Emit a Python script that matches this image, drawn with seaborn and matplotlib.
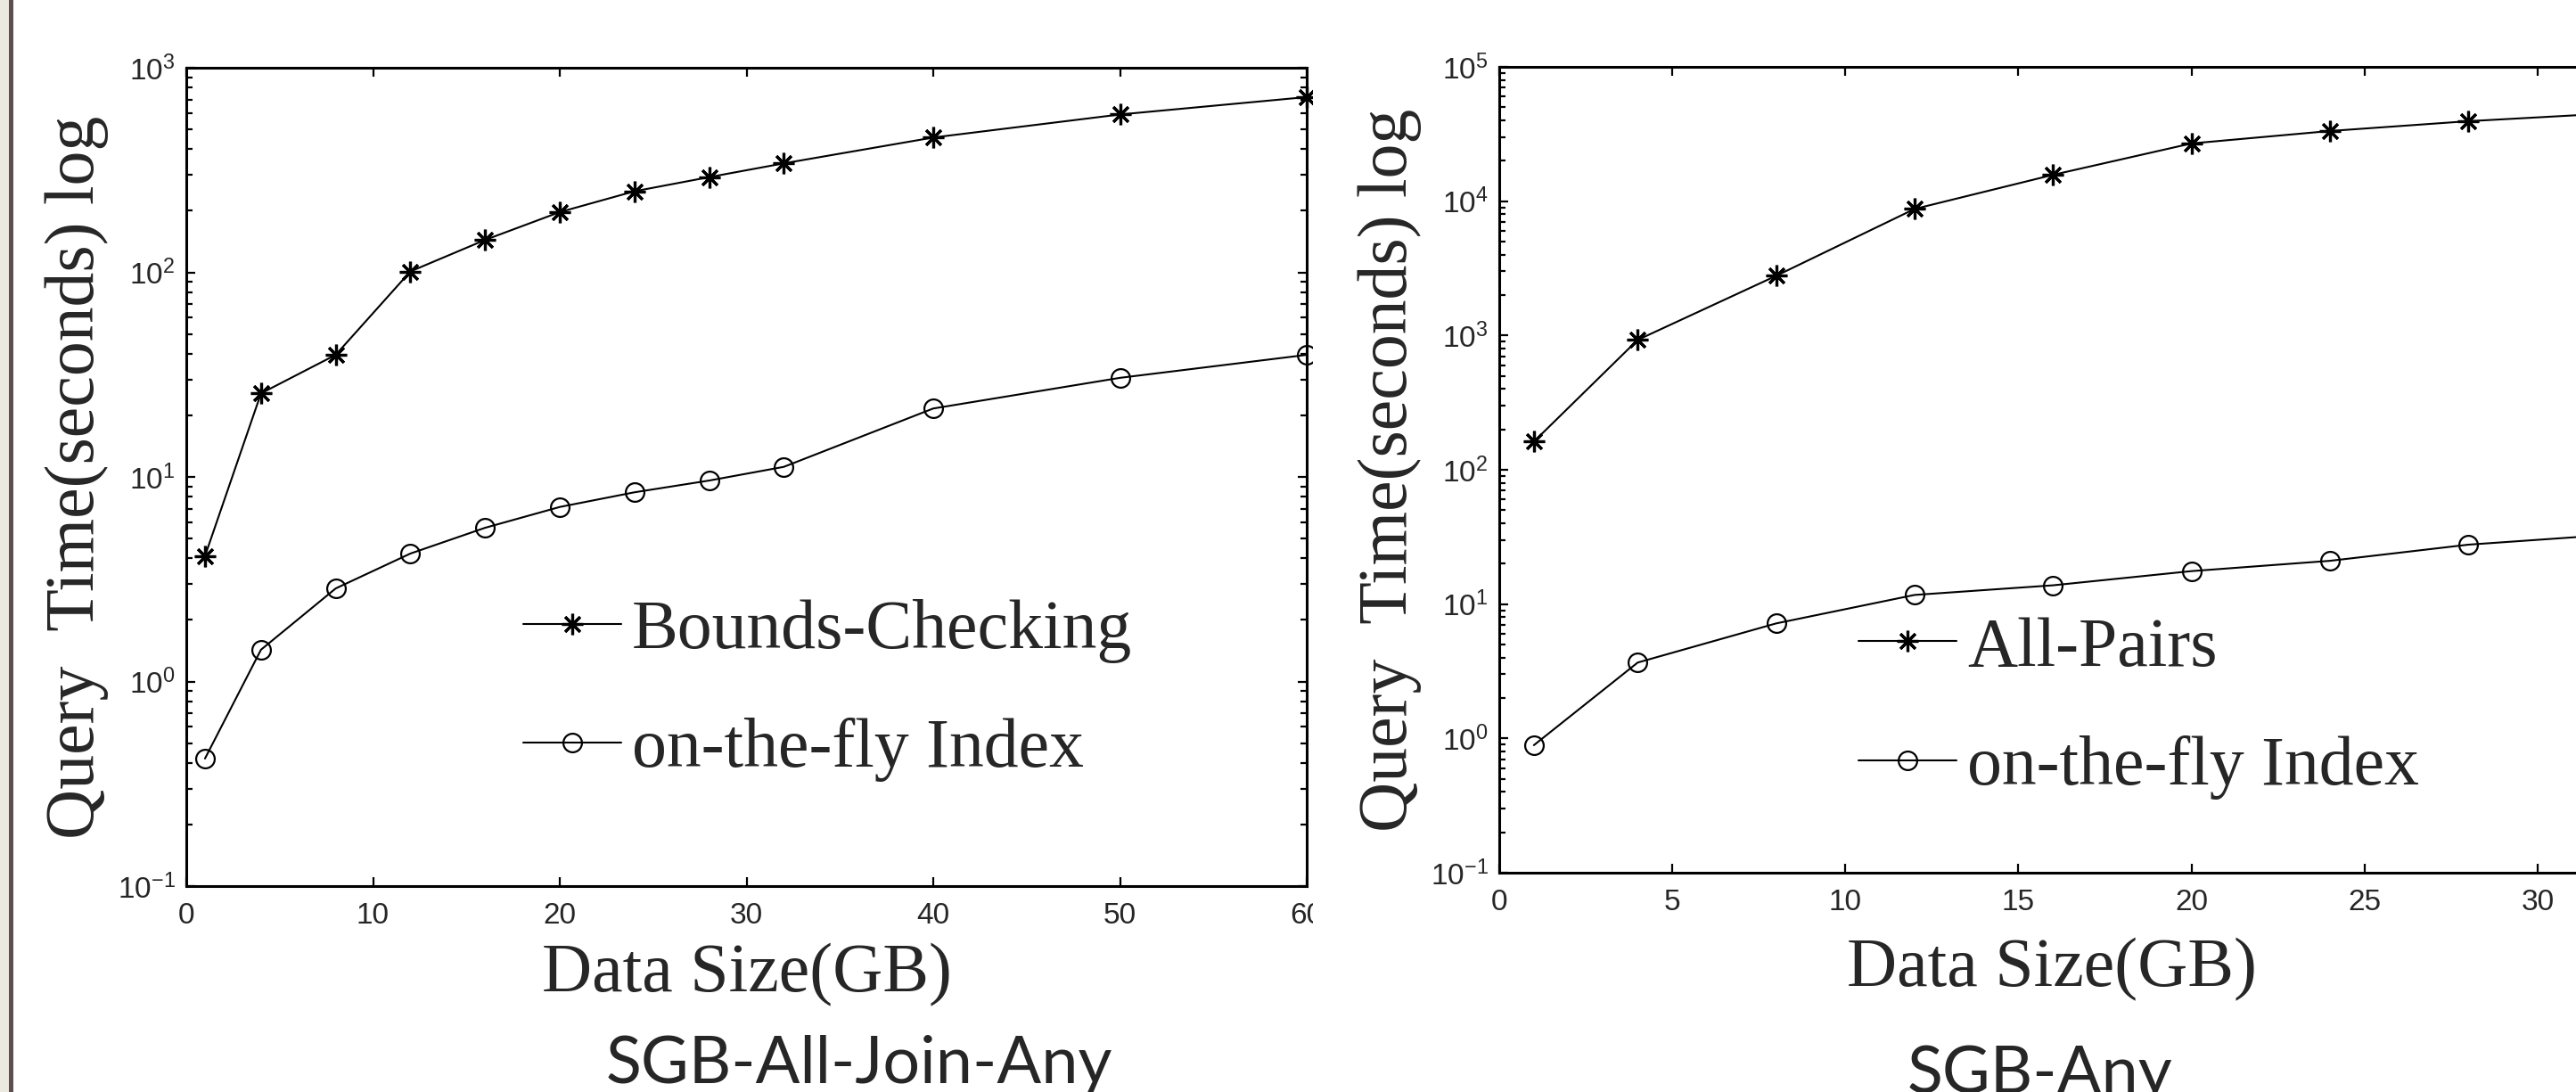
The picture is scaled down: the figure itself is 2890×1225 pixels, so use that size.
import math
import matplotlib
matplotlib.use('Agg')
import pandas as pd
import matplotlib.pyplot as plt
import seaborn as sns
from matplotlib.markers import MarkerStyle
from matplotlib.patches import Rectangle
from matplotlib.ticker import FixedLocator, FuncFormatter, LogLocator, NullFormatter

# SGB-All-Join-Any (left panel)
left_sizes = [1, 4, 8, 12, 16, 20, 24, 28, 32, 40, 50, 60]
bounds_checking = [4.1, 25.6, 39.5, 101, 144, 197, 249, 292, 341, 456, 591, 719]
left_index = [0.42, 1.43, 2.85, 4.22, 5.64, 7.13, 8.41, 9.6, 11.2, 21.6, 30.5, 39.5]

# SGB-Any (right panel, cropped on the right)
right_sizes = [1, 4, 8, 12, 16, 20, 24, 28, 32]
all_pairs = [162, 927, 2780, 8750, 15700, 26900, 33300, 39400, 44900]
right_index = [0.89, 3.67, 7.18, 11.7, 13.8, 17.6, 21.0, 27.7, 32.7]

left_xticks = [0, 10, 20, 30, 40, 50, 60]
right_xticks = [0, 5, 10, 15, 20, 25, 30, 35]
left_decades = [-1, 0, 1, 2, 3]
right_decades = [-1, 0, 1, 2, 3, 4, 5]

left_labels = ['Bounds-Checking', 'on-the-fly Index']
right_labels = ['All-Pairs', 'on-the-fly Index']
captions = ['SGB-All-Join-Any', 'SGB-Any']

sns.set_style('ticks')
plt.rcParams['font.family'] = ['Liberation Serif', 'DejaVu Serif']
plt.rcParams['mathtext.fontset'] = 'custom'
plt.rcParams['mathtext.rm'] = 'Liberation Sans'
plt.rcParams['mathtext.it'] = 'Liberation Sans'

W, H = 2890, 1225
fig = plt.figure(figsize=(W / 100, H / 100), dpi=100)
fig.patch.set_facecolor('white')


def px_box(x0, y0, x1, y1):
    # pixel box (top-left origin) -> figure fraction [left, bottom, width, height]
    return [x0 / W, 1 - y1 / H, (x1 - x0) / W, (y1 - y0) / H]


ax1 = fig.add_axes(px_box(209, 76, 1466, 994))
ax2 = fig.add_axes(px_box(1682, 75, 3041, 979))

star = MarkerStyle((8, 2, 0))
line_kw = dict(color='black', linewidth=1.5, clip_on=False, dashes=False)


def draw_panel(ax, sizes, top, bottom, labels, xticks, decades, xmax):
    df = pd.DataFrame({'size': sizes, 'top': top, 'bottom': bottom})
    sns.lineplot(data=df, x='size', y='top', marker=star, markersize=17, markeredgewidth=2.3,
                 markeredgecolor='black', label=labels[0], ax=ax, **line_kw)
    sns.lineplot(data=df, x='size', y='bottom', marker='o', markersize=15, markeredgewidth=1.6,
                 markerfacecolor='none', markeredgecolor='black', label=labels[1], ax=ax,
                 **line_kw)
    ax.set_yscale('log')
    ax.set_xlim(0, xmax)
    ax.set_ylim(10.0 ** decades[0], 10.0 ** decades[-1])
    ax.xaxis.set_major_locator(FixedLocator(xticks))
    ax.yaxis.set_major_locator(FixedLocator([10.0 ** d for d in decades]))
    ax.yaxis.set_minor_locator(LogLocator(base=10, subs=range(2, 10), numticks=20))
    ax.yaxis.set_minor_formatter(NullFormatter())
    ax.yaxis.set_major_formatter(FuncFormatter(lambda v, p: '$10^{%d}$' % round(math.log10(v))))
    ax.xaxis.set_major_formatter(FuncFormatter(lambda v, p: '%d' % v))
    ax.tick_params(which='both', direction='in', top=True, right=True, width=1.6, color='black')
    ax.tick_params(which='major', length=7.5)
    ax.tick_params(which='minor', length=5)
    ax.tick_params(axis='x', which='major', pad=13, labelsize=24)
    ax.tick_params(axis='y', which='major', pad=9, labelsize=24)
    for lbl in ax.get_xticklabels() + ax.get_yticklabels():
        lbl.set_family(['Liberation Sans', 'DejaVu Sans'])
    for s in ax.spines.values():
        s.set_linewidth(2.2)
        s.set_color('black')
    ax.set_xlabel('Data Size(GB)', fontsize=56)
    ax.set_ylabel('Query\u2002Time(seconds) log', fontsize=56)
    ax.set_facecolor('white')


draw_panel(ax1, left_sizes, bounds_checking, left_index, left_labels, left_xticks, left_decades, 60)
draw_panel(ax2, right_sizes, all_pairs, right_index, right_labels, right_xticks, right_decades, 35)

ax1.xaxis.set_label_coords(0.5, -0.07)
ax1.yaxis.set_label_coords(-0.069, 0.5)
ax2.xaxis.set_label_coords(0.456, -0.08)
ax2.yaxis.set_label_coords(-0.064, 0.5)

leg_kw = dict(frameon=False, fontsize=56, handlelength=1.42, handletextpad=0.15,
              labelspacing=0.79, borderpad=0, borderaxespad=0, loc='upper left',
              bbox_transform=fig.transFigure)
ax1.legend(bbox_to_anchor=(587 / W, 1 - 672 / H), **leg_kw)
ax2.legend(bbox_to_anchor=(2085 / W, 1 - 692 / H), **leg_kw)

# captions under each panel
fig.text(964 / W, 1 - 1215 / H, captions[0], fontsize=53, family=['Lato', 'DejaVu Sans'],
         ha='center', va='baseline')
fig.text(2289 / W, 1 - 1226 / H, captions[1], fontsize=53, family=['Lato', 'DejaVu Sans'],
         ha='center', va='baseline')

# crop edge of the left picture and the slide border
fig.patches.append(Rectangle((1473 / W, 0), 34 / W, 1, transform=fig.transFigure,
                             facecolor='white', edgecolor='none', zorder=5))
fig.patches.append(Rectangle((0, 0), 10 / W, 1, transform=fig.transFigure,
                             facecolor='#ECE9E0', edgecolor='none', zorder=5))
fig.patches.append(Rectangle((10 / W, 0), 5 / W, 1, transform=fig.transFigure,
                             facecolor='#5E4F4F', edgecolor='none', zorder=5))

fig.savefig('out.png', dpi=100, facecolor='white')
